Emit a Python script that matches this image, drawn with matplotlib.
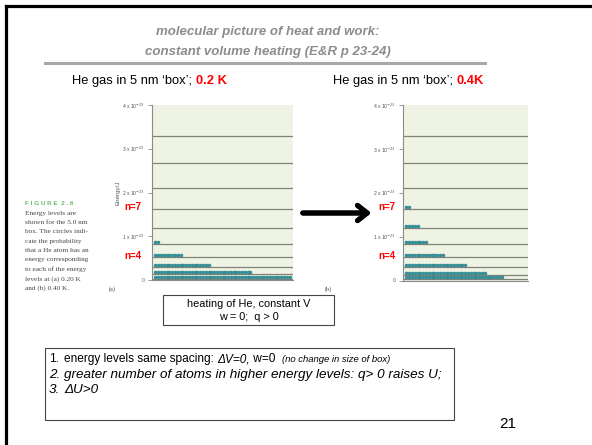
import numpy as np
import matplotlib.pyplot as plt
from matplotlib.patches import Rectangle

plt.rcParams['font.family'] = ['Liberation Sans', 'DejaVu Sans']

# energy levels n=1..10, in units of 1e-23 J
levels = [0.03, 0.13, 0.30, 0.53, 0.83, 1.19, 1.62, 2.11, 2.67, 3.30]
# number of circles drawn on each level
counts_a = [49, 35, 20, 10, 2, 0, 0, 0, 0, 0]   # 0.20 K
counts_b = [35, 29, 22, 14, 8, 5, 2, 0, 0, 0]   # 0.40 K
yticks = [0, 1, 2, 3, 4]
ytick_labels = ['0', '1 x 10$^{-23}$', '2 x 10$^{-23}$', '3 x 10$^{-23}$', '4 x 10$^{-23}$']

caption = ["Energy levels are", "shown for the 5.0 nm", "box. The circles indi-",
           "cate the probability", "that a He atom has an", "energy corresponding",
           "to each of the energy", "levels at (a) 0.20 K", "and (b) 0.40 K."]

W, H = 592, 445
fig = plt.figure(figsize=(W / 100, H / 100), dpi=100)
renderer = fig.canvas.get_renderer()


def fx(px):
    return px / W


def fy(py):
    return 1 - py / H


def run_text(x0, y0, parts):
    # parts: list of (text, kwargs); drawn one after the other on the same line
    x = fx(x0)
    for s, kw in parts:
        t = fig.text(x, fy(y0), s, ha='left', va='center', **kw)
        bb = t.get_window_extent(renderer)
        x = bb.x1 / W


def level_panel(rect, counts, xmax):
    ax = fig.add_axes(rect)
    ax.set_facecolor('#eef3e3')
    for e in levels:
        ax.axhline(e, color='#80837a', lw=0.9, zorder=1)
    for e, c in zip(levels, counts):
        if c == 0:
            continue
        xs = np.arange(c) + 0.5
        ax.plot(xs, np.full(c, e + 0.05), ls='none', marker='o', ms=2.2,
                color='#3596a0', mec='#25767e', mew=0.3, zorder=3)
    ax.set_ylim(0, 4)
    ax.set_xlim(-0.7, xmax)
    ax.set_yticks(yticks)
    ax.set_yticklabels(ytick_labels, fontsize=3.6, color='#555555')
    ax.tick_params(axis='y', length=3, width=0.6, color='#888888', pad=2)
    ax.set_xticks([])
    for s in ['top', 'right']:
        ax.spines[s].set_visible(False)
    for s in ['left', 'bottom']:
        ax.spines[s].set_color('#8a8a8a')
        ax.spines[s].set_linewidth(0.8)
    return ax


axa = level_panel([fx(152), fy(280), fx(293) - fx(152), fy(105) - fy(280)], counts_a, 49.7)
axb = level_panel([fx(403), fy(280.5), fx(528) - fx(403), fy(105) - fy(280.5)], counts_b, 43.9)
axa.set_ylabel('Energy/J', fontsize=4.5, color='#555555', labelpad=1)

# slide frame (left and top edges only visible)
fig.add_artist(plt.Line2D([fx(6), fx(6)], [fy(6), 0], color='black', lw=2.3))
fig.add_artist(plt.Line2D([fx(6), 1], [fy(6), fy(6)], color='black', lw=2.3))

# title
fig.text(fx(268), fy(32), 'molecular picture of heat and work:', ha='center', va='center',
         fontsize=9.5, fontweight='bold', style='italic', color='#8c8c8c')
fig.text(fx(268), fy(52), 'constant volume heating (E&R p 23-24)', ha='center', va='center',
         fontsize=9.5, fontweight='bold', style='italic', color='#8c8c8c')
fig.add_artist(plt.Line2D([fx(45), fx(485)], [fy(63), fy(63)], color='#a8a8a8', lw=2.2))

# subtitles
red = dict(fontsize=9.3, color='#ff0000', fontweight='bold')
run_text(72, 81, [('He gas in 5 nm \u2018box\u2019; ', dict(fontsize=9.3)), ('0.2 K', red)])
run_text(333, 81, [('He gas in 5 nm \u2018box\u2019; ', dict(fontsize=9.3)), ('0.4K', red)])

# n labels
for x0 in [133, 387]:
    fig.text(fx(x0), fy(207), 'n=7', ha='center', va='center', fontsize=7, color='#ff0000',
             fontweight='bold')
    fig.text(fx(x0), fy(256), 'n=4', ha='center', va='center', fontsize=7, color='#ff0000',
             fontweight='bold')

# caption
fig.text(fx(25), fy(203), 'F I G U R E  2 . 6', ha='left', va='center', fontsize=4.6,
         color='#6abb6a', fontweight='bold')
for i, line in enumerate(caption):
    fig.text(fx(25), fy(213 + i * 9.4), line, ha='left', va='center', fontsize=5.2,
             family='Liberation Serif', color='#444444')
fig.text(fx(112), fy(289), '(a)', ha='center', va='center', fontsize=4.5, family='Liberation Serif',
         color='#444444')
fig.text(fx(328), fy(289), '(b)', ha='center', va='center', fontsize=4.5, family='Liberation Serif',
         color='#444444')

# arrow
fig.add_artist(plt.annotate('', xy=(fx(374), fy(213)), xytext=(fx(300), fy(213)),
                            xycoords='figure fraction', textcoords='figure fraction',
                            arrowprops=dict(arrowstyle='->,head_length=0.7,head_width=0.55',
                                            lw=3.6, color='black')))

# boxes
fig.add_artist(Rectangle((fx(163), fy(325)), fx(334) - fx(163), fy(295) - fy(325),
                         transform=fig.transFigure, fill=False, ec='#444444', lw=0.8))
fig.text(fx(249), fy(304), 'heating of He, constant V', ha='center', va='center', fontsize=7.8)
fig.text(fx(249), fy(317), 'w = 0;  q > 0', ha='center', va='center', fontsize=7.8)

fig.add_artist(Rectangle((fx(45), fy(420)), fx(454) - fx(45), fy(348) - fy(420),
                         transform=fig.transFigure, fill=False, ec='#444444', lw=0.8))
fs1 = 8.6
fs2 = 9.7
fig.text(fx(49), fy(359), '1.', ha='left', va='center', fontsize=fs1)
run_text(64, 359, [('energy levels same spacing: ', dict(fontsize=fs1)),
                   ('\u0394V=0,', dict(fontsize=fs1, style='italic')),
                   (' w=0  ', dict(fontsize=fs1)),
                   ('(no change in size of box)', dict(fontsize=6.8, style='italic'))])
fig.text(fx(49), fy(375), '2.', ha='left', va='center', fontsize=fs2, style='italic')
fig.text(fx(64), fy(375), 'greater number of atoms in higher energy levels: q> 0 raises U;',
         ha='left', va='center', fontsize=fs2, style='italic')
fig.text(fx(49), fy(390), '3.', ha='left', va='center', fontsize=fs2, style='italic')
fig.text(fx(64), fy(390), '\u0394U>0', ha='left', va='center', fontsize=fs2, style='italic')

fig.text(fx(508), fy(424), '21', ha='center', va='center', fontsize=11)

fig.savefig('out.png', dpi=100)
